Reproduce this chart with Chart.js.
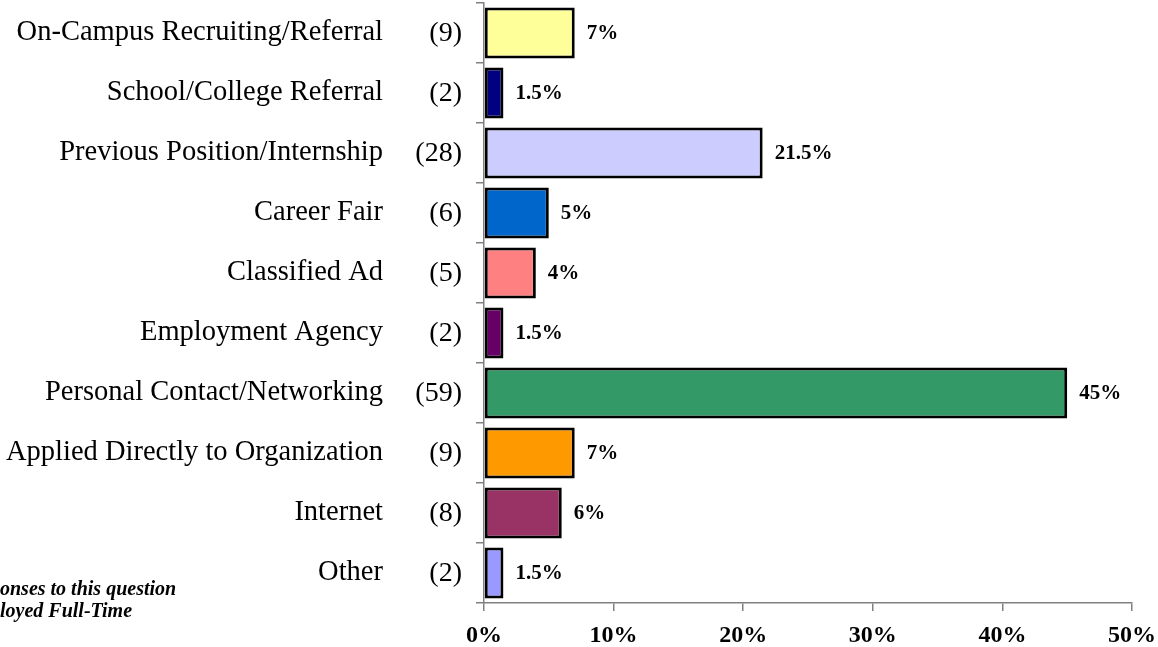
<!DOCTYPE html>
<html>
<head>
<meta charset="utf-8">
<script src="https://cdn.jsdelivr.net/npm/chart.js@4/dist/chart.umd.min.js"></script>
<style>
  html, body { margin: 0; padding: 0; background: #fff; }
  #wrap { width: 1158px; height: 647px; position: relative; }
</style>
</head>
<body>
<div id="wrap"><canvas id="chart"></canvas></div>
<script>
// Chart data
const categories = [
    'On-Campus Recruiting/Referral',
    'School/College Referral',
    'Previous Position/Internship',
    'Career Fair',
    'Classified Ad',
    'Employment Agency',
    'Personal Contact/Networking',
    'Applied Directly to Organization',
    'Internet',
    'Other'
];
const counts = [9, 2, 28, 6, 5, 2, 59, 9, 8, 2];
const percents = [7, 1.5, 21.5, 5, 4, 1.5, 45, 7, 6, 1.5];
const barColors = ['#FFFF99', '#000080', '#CCCCFF', '#0066CC', '#FF8080',
                   '#660066', '#339966', '#FF9900', '#993366', '#9999FF'];
const xTicks = [0, 10, 20, 30, 40, 50];

const serif = '"Liberation Serif", "Times New Roman", serif';
const PLOT_LEFT = 484;

// counts column + value labels + footnote
const extrasPlugin = {
    id: 'extras',
    afterDatasetsDraw(chart) {
        const ctx = chart.ctx;
        const meta = chart.getDatasetMeta(0);
        const yScale = chart.scales.y;
        ctx.save();
        ctx.fillStyle = '#000';
        ctx.textBaseline = 'middle';

        // (n) counts
        ctx.font = '28px ' + serif;
        ctx.textAlign = 'right';
        counts.forEach((c, i) => {
            ctx.fillText('(' + c + ')', 462, yScale.getPixelForValue(i) + 1);
        });

        // percent labels at bar ends
        ctx.font = 'bold 21px ' + serif;
        ctx.textAlign = 'left';
        meta.data.forEach((bar, i) => {
            ctx.fillText(percents[i] + '%', bar.x + 12, bar.y + 1);
        });

        // footnote, cut off at the left edge
        ctx.font = 'italic bold 20px ' + serif;
        ctx.textBaseline = 'alphabetic';
        const l1 = 'Number of Responses to this question';
        const l2 = 'Graduates Employed Full-Time';
        ctx.fillText(l1, -ctx.measureText('Number of Resp').width, 595);
        ctx.fillText(l2, -ctx.measureText('Graduates Emp').width, 617);
        ctx.restore();
    }
};

const ctx = document.getElementById('chart').getContext('2d');
new Chart(ctx, {
    type: 'bar',
    data: {
        labels: categories,
        datasets: [{
            data: percents,
            backgroundColor: barColors,
            borderColor: '#000',
            borderWidth: 3,
            borderSkipped: false,
            barPercentage: 0.85,
            categoryPercentage: 1
        }]
    },
    options: {
        indexAxis: 'y',
        responsive: true,
        maintainAspectRatio: false,
        animation: false,
        layout: { padding: { top: 3, right: 26, left: 0, bottom: 0 } },
        plugins: {
            legend: { display: false },
            tooltip: { enabled: false }
        },
        scales: {
            x: {
                min: 0,
                max: 50,
                afterBuildTicks: (scale) => { scale.ticks = xTicks.map(v => ({ value: v })); },
                afterFit: (scale) => {
                    scale.height = 44;
                    scale.paddingLeft = 0;
                    scale.paddingRight = 0;
                },
                grid: {
                    drawOnChartArea: false,
                    color: '#808080',
                    tickLength: 8,
                    lineWidth: 1.5
                },
                border: { color: '#808080', width: 1.5 },
                ticks: {
                    color: '#000',
                    padding: 10,
                    maxRotation: 0,
                    font: { family: serif, size: 24, weight: 'bold' },
                    callback: (v) => v + '%'
                }
            },
            y: {
                afterFit: (scale) => {
                    scale.width = PLOT_LEFT;
                    scale.paddingTop = 0;
                    scale.paddingBottom = 0;
                },
                grid: {
                    offset: true,
                    drawOnChartArea: false,
                    color: '#808080',
                    tickLength: 8,
                    lineWidth: 1.5
                },
                border: { color: '#808080', width: 1.5 },
                ticks: {
                    color: '#000',
                    padding: 93,
                    autoSkip: false,
                    font: { family: serif, size: 28.5 }
                }
            }
        }
    },
    plugins: [extrasPlugin]
});
</script>
</body>
</html>
